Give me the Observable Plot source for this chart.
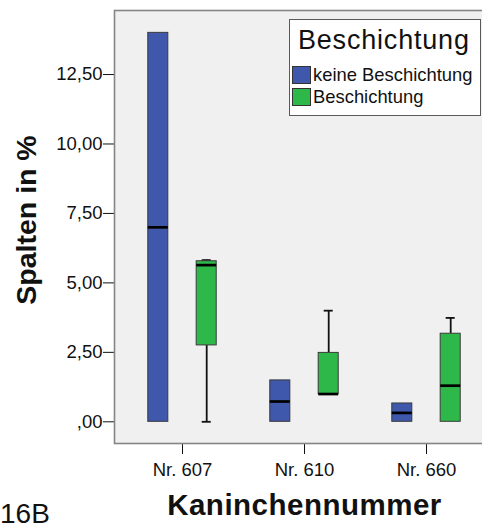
<!DOCTYPE html>
<html>
<head>
<meta charset="utf-8">
<script src="https://cdn.jsdelivr.net/npm/d3@7"></script>
<script src="https://cdn.jsdelivr.net/npm/@observablehq/plot@0.6"></script>
<style>
  body { margin: 0; background: #fff; font-family: "Liberation Sans", Arial, sans-serif; }
  #chart { position: relative; width: 482px; height: 531px; overflow: hidden; }
  #chart svg { position: absolute; left: 0; top: 0; max-width: none !important; width: 490px !important; height: 531px !important; }
  .legend { position: absolute; left: 289px; top: 19px; width: 192px; height: 97px; box-sizing: border-box;
            border: 1px solid #5a5a5a; background: #fff; color: #111; }
  .legend .title { position: absolute; left: 8px; top: 7px; font-size: 27px; line-height: 27px; letter-spacing: 0.8px; white-space: nowrap; }
  .legend .row { position: absolute; left: 2px; height: 18px; display: flex; align-items: center; white-space: nowrap; font-size: 18.4px; }
  .legend .sw { width: 19px; height: 18px; box-sizing: border-box; border: 1px solid #333; margin-right: 2px; flex: none; }
  .axis-title { position: absolute; white-space: nowrap; line-height: 1; color: #111; }
</style>
</head>
<body>
<div id="chart"></div>
<script>
// Rabbits (x categories) and coating groups
const animals = ["Nr. 607", "Nr. 610", "Nr. 660"];
const groups = ["keine Beschichtung", "Beschichtung"];
const groupColors = ["#3f58ab", "#2fb84a"];

// Box-plot statistics (Spalten in %), one value per rabbit
const minNone = [0, 0, 0];
const q1None = [0, 0, 0];
const medianNone = [7.0, 0.73, 0.32];
const q3None = [14.0, 1.49, 0.66];
const maxNone = [14.0, 1.49, 0.66];

const minCoated = [0, 1.0, 0];
const q1Coated = [2.75, 1.0, 0];
const medianCoated = [5.64, 1.0, 1.30];
const q3Coated = [5.78, 2.48, 3.17];
const maxCoated = [5.82, 4.0, 3.74];

const yTicks = [0, 2.5, 5, 7.5, 10, 12.5];

const statsByGroup = [
  {min: minNone, q1: q1None, median: medianNone, q3: q3None, max: maxNone},
  {min: minCoated, q1: q1Coated, median: medianCoated, q3: q3Coated, max: maxCoated}
];
const rows = [];
groups.forEach((g, gi) => animals.forEach((a, ai) => {
  const s = statsByGroup[gi];
  rows.push({animal: a, group: g, gi, min: s.min[ai], q1: s.q1[ai], median: s.median[ai], q3: s.q3[ai], max: s.max[ai]});
}));

// German decimal format: 2,50 and ,00
const fmt = d => d3.format(".2f")(d).replace(".", ",").replace(/^0,/, ",");

// Layout of the boxes inside each rabbit band
const xRange = [120.6, 487.1];
const band = (xRange[1] - xRange[0]) / animals.length;
const offset = 24.2, boxHalf = 10.1, capHalf = 4.6;
const insets = (gi, h) => {
  const c = gi === 0 ? -offset : offset;
  return {insetLeft: band / 2 + c - h, insetRight: band / 2 - c - h};
};

const marks = [Plot.frame({fill: "#f0f0f0", stroke: "#858585", strokeWidth: 1.6})];
groups.forEach((g, gi) => {
  const data = rows.filter(r => r.gi === gi);
  const dx = gi === 0 ? -offset : offset;
  const upper = data.filter(r => r.max > r.q3);
  const lower = data.filter(r => r.min < r.q1);
  marks.push(
    Plot.ruleX(upper, {x: "animal", y1: "q3", y2: "max", dx, stroke: "#111", strokeWidth: 1.8}),
    Plot.ruleX(lower, {x: "animal", y1: "q1", y2: "min", dx, stroke: "#111", strokeWidth: 1.8}),
    Plot.tickY(upper, {x: "animal", y: "max", stroke: "#111", strokeWidth: 1.8, ...insets(gi, capHalf)}),
    Plot.tickY(lower, {x: "animal", y: "min", stroke: "#111", strokeWidth: 1.8, ...insets(gi, capHalf)}),
    Plot.barY(data, {x: "animal", y1: "q1", y2: "q3", fill: groupColors[gi], stroke: "#3a3a3a", strokeWidth: 1, ...insets(gi, boxHalf)}),
    Plot.tickY(data, {x: "animal", y: "median", stroke: "#000", strokeWidth: 2.7, ...insets(gi, boxHalf)})
  );
});

const chart = Plot.plot({
  width: 490,
  height: 531,
  marginLeft: 114,
  marginRight: 0,
  marginTop: 10,
  marginBottom: 88,
  style: {fontFamily: "Liberation Sans, Arial, sans-serif", fontSize: "18.5px", color: "#111", background: "transparent", maxWidth: "none"},
  x: {domain: animals, range: xRange, padding: 0, tickSize: 11, tickPadding: 8, label: null},
  y: {domain: [-0.781, 14.805], ticks: yTicks, tickFormat: fmt, tickSize: 11, tickPadding: 1, label: null},
  marks
});

const root = document.getElementById("chart");
root.appendChild(chart);

// Axis titles and panel tag
const addTitle = (text, css) => {
  const el = document.createElement("div");
  el.className = "axis-title";
  el.textContent = text;
  Object.assign(el.style, css);
  root.appendChild(el);
};
addTitle("Spalten in %", {left: "25.5px", top: "220px", fontSize: "28.5px", fontWeight: "bold",
  transform: "translate(-50%, -50%) rotate(-90deg)"});
addTitle("Kaninchennummer", {left: "304.5px", top: "505px", fontSize: "29.5px", fontWeight: "bold", letterSpacing: "0.5px",
  transform: "translate(-50%, -50%)"});
addTitle("16B", {left: "0px", top: "514px", fontSize: "28px", transform: "translate(0, -50%)"});

// Legend box inside the plot area
const legend = document.createElement("div");
legend.className = "legend";
const title = document.createElement("div");
title.className = "title";
title.textContent = "Beschichtung";
legend.appendChild(title);
groups.forEach((g, gi) => {
  const row = document.createElement("div");
  row.className = "row";
  row.style.top = (46 + gi * 22) + "px";
  const sw = document.createElement("span");
  sw.className = "sw";
  sw.style.background = groupColors[gi];
  const label = document.createElement("span");
  label.textContent = g;
  row.appendChild(sw);
  row.appendChild(label);
  legend.appendChild(row);
});
root.appendChild(legend);
</script>
</body>
</html>
